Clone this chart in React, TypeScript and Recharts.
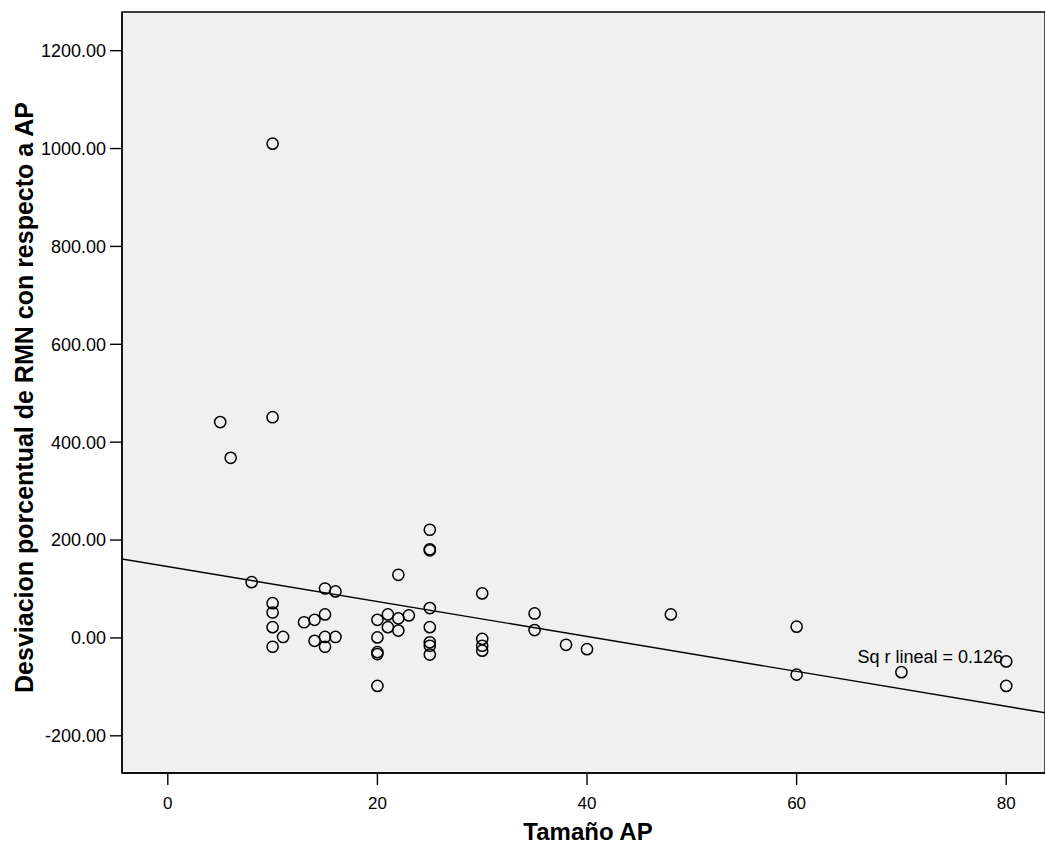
import { ScatterChart, Scatter, XAxis, YAxis, CartesianGrid, ReferenceLine, ReferenceArea, ReferenceDot } from "recharts";

// Tamaño AP
const sizeAP = [
  5, 6, 8, 10, 10, 10, 10, 10, 10, 11, 13, 14, 14, 15, 15, 15, 15, 16, 16,
  20, 20, 20, 20, 20, 21, 21, 22, 22, 22, 23, 25, 25, 25, 25, 25, 25, 25, 25,
  30, 30, 30, 30, 35, 35, 38, 40, 48, 60, 60, 70, 80, 80,
];
// Desviacion porcentual de RMN con respecto a AP
const deviation = [
  441, 368, 114, 1010, 451, 71, 52, 22, -18, 2, 32, 37, -6, 101, 48, 2, -18, 95, 2,
  37, 1, -29, -33, -98, 48, 22, 129, 40, 15, 46, 221, 181, 179, 61, 22, -9, -16, -34,
  91, -2, -16, -26, 50, 16, -14, -23, 48, 23, -75, -70, -48, -98,
];

const xTicks = [0, 20, 40, 60, 80];
const yTicks = [-200, 0, 200, 400, 600, 800, 1000, 1200];

const X_MIN = -4.37;
const X_MAX = 83.7;
const Y_MIN = -276;
const Y_MAX = 1279;

// fitted line
const FIT_INTERCEPT = 145.8;
const FIT_SLOPE = -3.57;
const R2_LABEL = "Sq r lineal = 0.126";

const FONT = '"Liberation Sans", Arial, sans-serif';

const points = sizeAP.map((x, i) => ({ x, y: deviation[i] }));

const Ring = (props: any) => (
  <circle cx={props.cx} cy={props.cy} r={5.6} fill="none" stroke="#000" strokeWidth={1.5} />
);

export default function App() {
  return (
    <div style={{ position: "absolute", left: 0, top: 0, width: 1045, height: 847, background: "#fff" }}>
      <ScatterChart width={1045} height={847} margin={{ top: 12, right: 0, bottom: 0, left: 0 }}>
        <CartesianGrid horizontal={false} vertical={false} fill="#f0f0f0" />
        <ReferenceArea
          x1={X_MIN}
          x2={X_MAX}
          y1={Y_MIN}
          y2={Y_MAX}
          fill="none"
          stroke="#000"
          strokeWidth={1.4}
          ifOverflow="visible"
        />
        <XAxis
          type="number"
          dataKey="x"
          domain={[X_MIN, X_MAX]}
          ticks={xTicks}
          allowDataOverflow
          height={74}
          tickSize={12}
          tickMargin={12}
          axisLine={{ stroke: "#000", strokeWidth: 1.4 }}
          tickLine={{ stroke: "#000", strokeWidth: 1.4 }}
          tick={{ fill: "#000", fontSize: 17, fontFamily: FONT }}
        />
        <YAxis
          type="number"
          dataKey="y"
          domain={[Y_MIN, Y_MAX]}
          ticks={yTicks}
          allowDataOverflow
          width={122}
          tickSize={12}
          tickMargin={4}
          tickFormatter={(v: number) => v.toFixed(2)}
          axisLine={{ stroke: "#000", strokeWidth: 1.4 }}
          tickLine={{ stroke: "#000", strokeWidth: 1.4 }}
          tick={{ fill: "#000", fontSize: 18, fontFamily: FONT }}
        />
        <ReferenceLine
          segment={[
            { x: X_MIN, y: FIT_INTERCEPT + FIT_SLOPE * X_MIN },
            { x: X_MAX, y: FIT_INTERCEPT + FIT_SLOPE * X_MAX },
          ]}
          stroke="#000"
          strokeWidth={1.4}
          ifOverflow="hidden"
        />
        <Scatter data={points} shape={Ring} isAnimationActive={false} />
        <ReferenceDot
          x={65.8}
          y={-51}
          r={0}
          ifOverflow="visible"
          shape={(p: any) => (
            <text x={p.cx} y={p.cy} fontSize={18} fontFamily={FONT} fill="#000">
              {R2_LABEL}
            </text>
          )}
        />
      </ScatterChart>
      <svg width={1045} height={847} style={{ position: "absolute", left: 0, top: 0, pointerEvents: "none" }}>
        <text
          x={33}
          y={397.5}
          transform="rotate(-90 33 397.5)"
          textAnchor="middle"
          fontSize={25}
          fontWeight="bold"
          fontFamily={FONT}
          fill="#000"
        >
          Desviacion porcentual de RMN con respecto a AP
        </text>
        <text x={588} y={840} textAnchor="middle" fontSize={24} fontWeight="bold" fontFamily={FONT} fill="#000">
          Tamaño AP
        </text>
      </svg>
    </div>
  );
}
